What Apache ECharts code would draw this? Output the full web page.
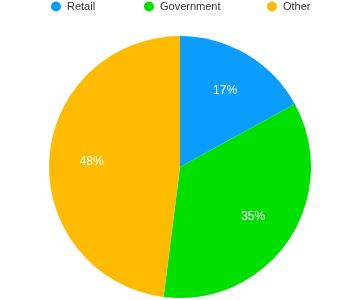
<!DOCTYPE html>
<html><head><meta charset="utf-8">
<script src="https://cdn.jsdelivr.net/npm/echarts@6/dist/echarts.min.js"></script>
<style>html,body{margin:0;padding:0;background:#fff}#c{width:360px;height:300px}</style>
</head><body><div id="c"></div>
<script>
var categories = ['Retail', 'Government', 'Other'];
var values = [17, 35, 48];
var colors = ['#0a9cff', '#00e000', '#ffbb00'];
var legendLeft = [51, 144, 267];

var chart = echarts.init(document.getElementById('c'), null, {renderer: 'canvas'});
var data = categories.map(function (n, i) { return {name: n, value: values[i], itemStyle: {color: colors[i]}}; });
var overlay = categories.map(function (n, i) {
  var d = {name: n, value: values[i]};
  if (i === 2) d.label = {padding: [0, 0, 18, 0]};
  return d;
});
var legends = categories.map(function (n, i) {
  return {
    data: [{name: n, itemStyle: {color: colors[i]}}],
    left: legendLeft[i], top: 1, padding: 0, icon: 'circle', itemWidth: 10, itemHeight: 10, itemGap: 0,
    selectedMode: false,
    textStyle: {fontFamily: 'Liberation Sans, Arial, sans-serif', fontSize: 11, color: '#333', padding: [0, 0, 0, 1]}
  };
});
chart.setOption({
  animation: false,
  legend: legends,
  series: [{
    type: 'pie', center: [180, 167], radius: [0, 131], startAngle: 90, clockwise: true,
    data: data, label: {show: false}, labelLine: {show: false}, itemStyle: {borderWidth: 0}
  }, {
    type: 'pie', center: [180, 167], radius: [40, 131], startAngle: 90, clockwise: true, silent: true,
    data: overlay, itemStyle: {color: 'rgba(0,0,0,0)', borderWidth: 0},
    label: {show: true, position: 'inside', formatter: function (p) { return p.value + '%'; },
      color: '#fff', fontSize: 12, fontFamily: 'Liberation Sans, Arial, sans-serif'},
    labelLine: {show: false}
  }]
});
</script></body></html>
